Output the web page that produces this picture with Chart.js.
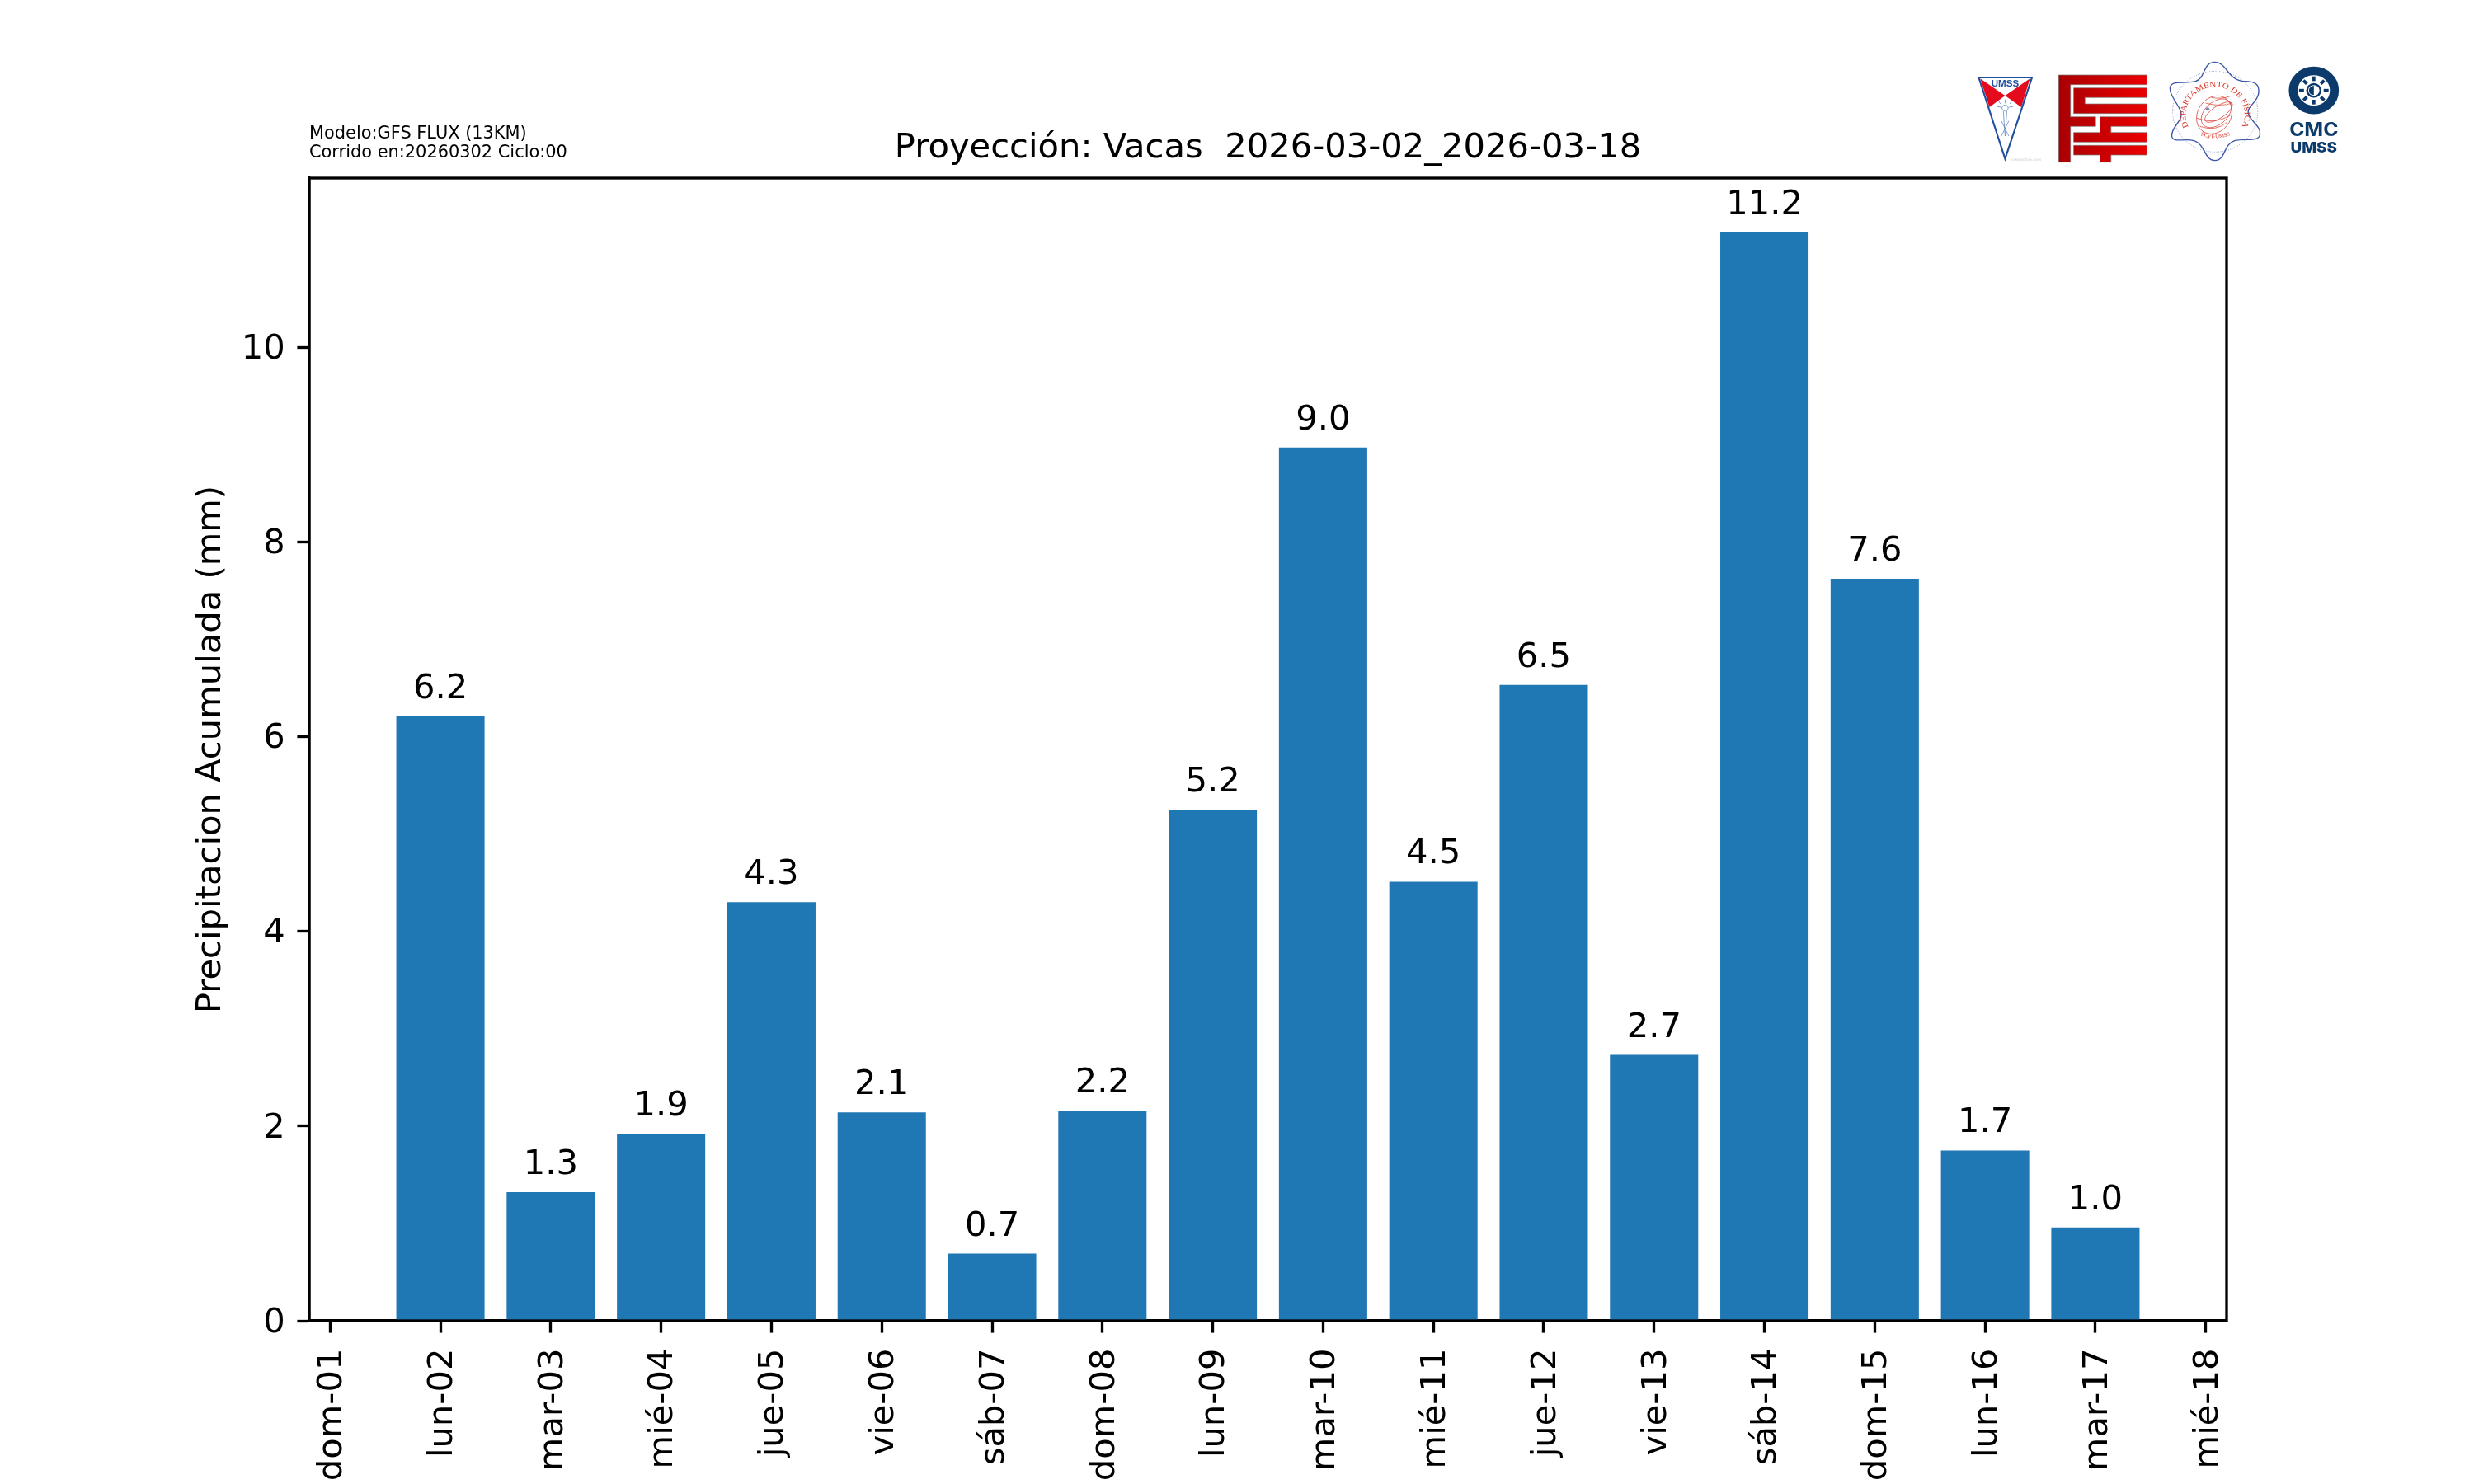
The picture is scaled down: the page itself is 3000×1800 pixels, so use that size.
<!DOCTYPE html>
<html lang="es">
<head>
<meta charset="utf-8">
<title>Proyección Vacas</title>
<script src="https://cdn.jsdelivr.net/npm/chart.js"></script>
<style>
  html, body { margin: 0; padding: 0; background: #fff; }
  #wrap { position: relative; width: 3000px; height: 1800px; overflow: hidden; }
  #chart { position: absolute; left: 0; top: 0; }
  #logos { position: absolute; left: 2350px; top: 50px; width: 550px; height: 160px; }
</style>
</head>
<body>
<div id="wrap">
  <canvas id="chart" width="3000" height="1800"></canvas>
  <!-- logos: inner coordinates are 2.85 units per px across, 3 down -->
  <svg id="logos" viewBox="0 0 1567.5 480" preserveAspectRatio="none" xmlns="http://www.w3.org/2000/svg">
    <defs>
      <linearGradient id="redGrad" gradientUnits="userSpaceOnUse" x1="417" y1="0" x2="722" y2="0">
        <stop offset="0" stop-color="#a80004"/>
        <stop offset="1" stop-color="#ec0000"/>
      </linearGradient>
      <path id="deptArc" d="M 866,312 A 102,102 0 1 1 1050,312"/>
      <path id="deptFoot" d="M 897,338 Q 958,368 1022,336"/>
    </defs>

    <!-- UMSS shield -->
    <polygon points="146,136 232,198 178,240" fill="#e30b1c"/>
    <polygon points="318,136 232,198 288,240" fill="#e30b1c"/>
    <polygon points="141,132 325,132 232,428" fill="none" stroke="#1f4f9f" stroke-width="6"/>
    <text x="232" y="165" text-anchor="middle" font-family="Liberation Sans" font-weight="700" font-size="33" fill="#1f4f9f">UMSS</text>
    <g stroke="#6f8fc4" stroke-width="2.5" fill="none">
      <circle cx="232" cy="243" r="11"/>
      <line x1="226" y1="255" x2="232" y2="345"/>
      <line x1="238" y1="255" x2="232" y2="345"/>
      <line x1="219" y1="290" x2="245" y2="345"/>
      <line x1="245" y1="290" x2="219" y2="345"/>
      <line x1="232" y1="212" x2="232" y2="226"/>
      <line x1="210" y1="218" x2="216" y2="228"/>
      <line x1="254" y1="218" x2="248" y2="228"/>
      <line x1="205" y1="238" x2="218" y2="240"/>
      <line x1="259" y1="238" x2="246" y2="240"/>
    </g>
    <text x="305" y="434" text-anchor="middle" font-family="DejaVu Sans" font-size="13" fill="#c9c9c9">creadictivo.com</text>

    <!-- FCyT block -->
    <g fill="url(#redGrad)" stroke="#7a7a7a" stroke-width="2">
      <polygon points="417,123 722,123 722,158 458,158 458,275 545,275 545,310 458,310 458,440 417,440"/>
      <polygon points="469,170 722,170 722,205 508,205 508,228 722,228 722,263 469,263"/>
      <polygon points="560,275 722,275 722,310 598,310 598,332 722,332 722,367 469,367 469,332 560,332"/>
      <polygon points="469,379 722,379 722,414 598,414 598,440 560,440 560,414 469,414"/>
    </g>

    <!-- Departamento de Fisica seal -->
    <path fill="none" stroke="#3d58a6" stroke-width="4"
      d="M 957,76 C 1000,76 1000,145 1060,146 C 1100,146 1112,160 1108,190
         C 1104,225 1060,240 1075,270 C 1090,300 1116,310 1113,340
         C 1108,368 1060,352 1025,362 C 985,375 995,434 957,434
         C 920,434 925,375 885,362 C 850,352 812,372 808,345
         C 806,310 848,290 840,260 C 832,228 800,200 802,170
         C 806,140 850,156 890,146 C 925,136 915,76 957,76 Z"/>
    <circle cx="958" cy="256" r="147" fill="none" stroke="#4f68ae" stroke-width="2.5" stroke-dasharray="2 5"/>
    <text font-family="Liberation Serif" font-size="28" fill="#d6372c">
      <textPath href="#deptArc" textLength="410" lengthAdjust="spacingAndGlyphs">DEPARTAMENTO DE FÍSICA</textPath>
    </text>
    <text font-family="Liberation Serif" font-size="20" fill="#d6372c">
      <textPath href="#deptFoot" startOffset="50%" text-anchor="middle">FCyT-UMSS</textPath>
    </text>
    <g fill="none" stroke="#d6372c" stroke-width="2">
      <ellipse cx="955" cy="268" rx="58" ry="72" transform="rotate(28 955 268)"/>
      <ellipse cx="962" cy="262" rx="40" ry="62" transform="rotate(45 962 262)"/>
      <ellipse cx="970" cy="258" rx="22" ry="56" transform="rotate(55 970 258)"/>
      <path d="M 895,280 Q 955,305 1010,270"/>
      <path d="M 905,310 Q 960,330 1000,295"/>
      <path d="M 925,225 Q 975,240 1018,225"/>
      <path d="M 945,205 Q 980,212 1010,200"/>
    </g>
    <circle cx="932" cy="247" r="6" fill="#6d83bd"/>

    <!-- CMC mark -->
    <circle cx="1299" cy="179" r="71" fill="none" stroke="#0b3a6b" stroke-width="31"/>
    <g stroke="#0b3a6b" stroke-width="11">
      <line x1="1299" y1="128" x2="1299" y2="145"/>
      <line x1="1299" y1="213" x2="1299" y2="230"/>
      <line x1="1248" y1="179" x2="1265" y2="179"/>
      <line x1="1333" y1="179" x2="1350" y2="179"/>
      <line x1="1263" y1="143" x2="1275" y2="155"/>
      <line x1="1335" y1="143" x2="1323" y2="155"/>
      <line x1="1263" y1="215" x2="1275" y2="203"/>
      <line x1="1335" y1="215" x2="1323" y2="203"/>
    </g>
    <circle cx="1299" cy="179" r="23" fill="#fff" stroke="#0b3a6b" stroke-width="7"/>
    <path d="M 1299,162 A 17,17 0 0 0 1299,196 Z" fill="#0b3a6b"/>
    <text x="1299" y="345" text-anchor="middle" font-family="Inter" font-weight="700" font-size="70" fill="#0b3a6b">CMC</text>
    <text x="1299" y="405" text-anchor="middle" font-family="Inter" font-weight="800" font-size="54" fill="#0b3a6b">UMSS</text>
  </svg>
</div>

<script>
// x tick labels, one per day of the run
const dayLabels = ['dom-01', 'lun-02', 'mar-03', 'mié-04', 'jue-05', 'vie-06', 'sáb-07', 'dom-08', 'lun-09',
  'mar-10', 'mié-11', 'jue-12', 'vie-13', 'sáb-14', 'dom-15', 'lun-16', 'mar-17', 'mié-18'];
const barDays = [1, 2, 3, 4, 5, 6, 7, 8, 9, 10, 11, 12, 13, 14, 15, 16];
const rainMm = [6.21, 1.32, 1.92, 4.30, 2.14, 0.69, 2.16, 5.249, 8.97, 4.51, 6.53, 2.73, 11.18, 7.62, 1.749, 0.96];
const modelNotes = ['Modelo:GFS FLUX (13KM)', 'Corrido en:20260302 Ciclo:00'];
const chartTitle = 'Proyección: Vacas  2026-03-02_2026-03-18';
const yLabel = 'Precipitacion Acumulada (mm)';

const FONT = '"DejaVu Sans"';
const PT10 = 41.67;
const LINE = 3.33;

// top and right spines, value labels and the model note
const extras = {
  id: 'extras',
  afterDatasetsDraw(chart) {
    const { ctx, chartArea: a } = chart;
    ctx.save();
    ctx.fillStyle = '#000';
    ctx.textAlign = 'center';
    ctx.textBaseline = 'alphabetic';
    ctx.font = `${PT10}px ${FONT}`;
    chart.getDatasetMeta(0).data.forEach((bar, i) => {
      ctx.fillText(rainMm[i].toFixed(1), bar.x, bar.y - 22);
    });
    ctx.strokeStyle = '#000';
    ctx.lineWidth = LINE;
    ctx.strokeRect(a.left, a.top, a.right - a.left, a.bottom - a.top);
    ctx.textAlign = 'left';
    ctx.font = `20.9px ${FONT}`;
    ctx.fillText(modelNotes[0], 375, 168);
    ctx.fillText(modelNotes[1], 375, 191);
    ctx.restore();
  },
};

new Chart(document.getElementById('chart'), {
  type: 'bar',
  data: {
    datasets: [{
      data: rainMm.map((v, i) => ({ x: barDays[i], y: v })),
      backgroundColor: '#1f77b4',
      borderWidth: 0,
      categoryPercentage: 1,
      barPercentage: 0.8,
    }],
  },
  options: {
    responsive: false,
    devicePixelRatio: 1,
    animation: false,
    layout: { padding: { left: 0, right: 300, top: 0, bottom: 0 } },
    plugins: {
      legend: { display: false },
      tooltip: { enabled: false },
      title: {
        display: true,
        text: chartTitle,
        fullSize: false,
        color: '#000',
        font: { family: FONT, size: PT10, weight: 'normal', lineHeight: 1.2 },
        padding: { top: 155, bottom: 11 },
      },
    },
    scales: {
      x: {
        type: 'linear',
        offset: false,
        min: -0.189,
        max: 17.189,
        afterFit(scale) { scale.height = 198; },
        grid: { display: true, offset: false, drawOnChartArea: false, drawTicks: true, tickLength: 14.6, tickWidth: LINE, tickColor: '#000' },
        border: { display: true, color: '#000', width: LINE },
        ticks: {
          stepSize: 1,
          includeBounds: false,
          autoSkip: false,
          minRotation: 90,
          maxRotation: 90,
          padding: 19,
          labelOffset: 3,
          color: '#000',
          font: { family: FONT, size: PT10 },
          callback: (v) => dayLabels[v],
        },
      },
      y: {
        min: 0,
        max: 11.736,
        afterFit(scale) { scale.width = 375; },
        grid: { display: true, drawOnChartArea: false, drawTicks: true, tickLength: 14.6, tickWidth: LINE, tickColor: '#000' },
        border: { display: true, color: '#000', width: LINE },
        title: {
          display: true,
          text: yLabel,
          color: '#000',
          font: { family: FONT, size: PT10, lineHeight: 1.2 },
          padding: { top: 231, bottom: 0 },
        },
        ticks: {
          stepSize: 2,
          includeBounds: false,
          padding: 14.6,
          labelOffset: 3,
          color: '#000',
          font: { family: FONT, size: PT10 },
        },
      },
    },
  },
  plugins: [extras],
});
</script>
</body>
</html>
